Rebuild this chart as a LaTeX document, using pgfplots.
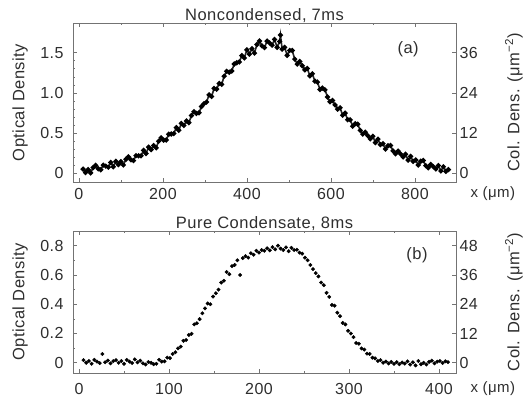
\documentclass[border=0pt]{standalone}
\usepackage{fontspec}
\setmainfont{Liberation Sans}[LetterSpace=3]
\usepackage{pgfplots}
\pgfplotsset{compat=1.18}
\definecolor{framec}{gray}{0.45}
\definecolor{txt}{gray}{0.18}
\pgfplotsset{
  panel/.style={
    scale only axis, width=383pt, anchor=south west,
    axis line style={framec, line width=0.8pt},
    every tick/.style={framec, line width=0.6pt},
    major tick length=4pt, minor tick length=2pt,
    tick label style={font=\fontsize{16}{18}\selectfont, text=txt},
    label style={font=\fontsize{16.5}{19}\selectfont, text=txt},
    title style={font=\fontsize{16.5}{19}\selectfont, text=txt, at={(axis description cs:0.5,1)}, anchor=base, yshift=-3pt},
    /pgf/number format/assume math mode=true,
    ytick pos=left,
    yticklabel style={xshift=-6pt},
    ylabel style={at={(axis description cs:0,0.5)}, anchor=center, yshift=53pt},
    xlabel={x (μm)},
    xlabel style={font=\fontsize{15}{17}\selectfont, at={(axis description cs:1,0)}, anchor=west, xshift=11pt},
  },
  rpanel/.style={
    scale only axis, width=383pt, anchor=south west,
    axis x line=none, axis y line*=right,
    axis line style={framec, line width=0.8pt},
    every tick/.style={framec, line width=0.6pt},
    major tick length=4pt,
    tick label style={font=\fontsize{16}{18}\selectfont, text=txt},
    label style={font=\fontsize{16.5}{19}\selectfont, text=txt},
    /pgf/number format/assume math mode=true,
    ylabel style={at={(axis description cs:1,0.5)}, anchor=center, yshift=-58pt},
    ylabel={Col. Dens. (μm\textsuperscript{−2})},
  },
  dots/.style={mark=*, black, mark options={draw=black, fill=black}},
}
\begin{document}
\begin{tikzpicture}
\path[use as bounding box] (0,0) rectangle (526pt,400pt);
% ---------------- panel (a) ----------------
\begin{axis}[panel, at={(73pt,218pt)}, height=159pt,
  xmin=-14, xmax=898, ymin=-0.11, ymax=1.87,
  xtick={0,200,400,600,800}, minor x tick num=1,
  xticklabel style={yshift=-3pt},
  xlabel style={yshift=-12pt},
  ytick={0,0.5,1,1.5}, yticklabels={0,0.5,1.0,1.5}, minor y tick num=4,
  title={Noncondensed, 7ms}, ylabel={Optical Density}]
\addplot[dots, mark size=1.7pt, line width=1.6pt, black!85] coordinates {
(10,0.050) (16,0.008) (22,0.045) (28,0.003) (34,0.070) (40,0.098) (46,0.055) (52,0.042)
(58,0.100) (64,0.088) (70,0.075) (76,0.133) (82,0.080) (88,0.148) (94,0.106) (100,0.144)
(106,0.102) (112,0.173) (118,0.204) (124,0.166) (130,0.157) (136,0.218) (142,0.216) (148,0.216)
(154,0.285) (160,0.245) (166,0.324) (172,0.294) (178,0.344) (184,0.316) (190,0.398) (196,0.440)
(202,0.411) (208,0.413) (214,0.485) (220,0.488) (226,0.493) (232,0.568) (238,0.534) (244,0.619)
(250,0.594) (256,0.650) (262,0.628) (268,0.717) (274,0.765) (280,0.744) (286,0.752) (292,0.831)
(298,0.866) (304,0.885) (310,0.975) (316,0.955) (322,1.055) (328,1.046) (334,1.117) (340,1.107)
(346,1.208) (352,1.268) (358,1.257) (364,1.273) (370,1.359) (376,1.375) (382,1.385) (388,1.465)
(394,1.435) (400,1.535) (406,1.483) (412,1.550) (418,1.496) (424,1.601) (430,1.646) (436,1.585)
(442,1.563) (448,1.645) (454,1.622) (460,1.594) (466,1.665) (472,1.567) (478,1.640) (480,1.720)
(484,1.545) (490,1.567) (496,1.467) (502,1.528) (508,1.527) (514,1.420) (520,1.358) (526,1.390)
(532,1.338) (538,1.286) (544,1.304) (550,1.212) (556,1.238) (562,1.145) (568,1.135) (574,1.042)
(580,1.060) (586,1.038) (592,0.948) (598,0.890) (604,0.905) (610,0.850) (616,0.797) (622,0.814)
(628,0.721) (634,0.748) (640,0.666) (646,0.665) (652,0.585) (658,0.617) (664,0.610) (670,0.533)
(676,0.487) (682,0.511) (688,0.467) (694,0.428) (700,0.460) (706,0.381) (712,0.423) (718,0.355)
(724,0.367) (730,0.300) (736,0.342) (742,0.345) (748,0.278) (754,0.242) (760,0.275) (766,0.239)
(772,0.202) (778,0.236) (784,0.162) (790,0.209) (796,0.147) (802,0.164) (808,0.102) (814,0.149)
(820,0.157) (826,0.094) (832,0.066) (838,0.108) (844,0.080) (850,0.052) (856,0.095) (862,0.027)
(868,0.080) (874,0.022) (880,0.045)
};
\node[anchor=center, font=\fontsize{16.5}{19}\selectfont, text=txt] at (rel axis cs:0.875,0.836) {(a)};
\end{axis}
\begin{axis}[rpanel, at={(73pt,218pt)}, height=159pt,
  xmin=-14, xmax=898, ymin=-2.64, ymax=44.88,
  ytick={0,12,24,36}]
\end{axis}
% ---------------- panel (b) ----------------
\begin{axis}[panel, at={(73pt,27pt)}, height=142pt,
  xmin=-6.7, xmax=418.9, ymin=-0.07, ymax=0.90,
  xtick={0,100,200,300,400}, minor x tick num=1,
  xticklabel style={yshift=-7pt},
  xlabel style={yshift=-16pt},
  ytick={0,0.2,0.4,0.6,0.8}, yticklabels={0,0.2,0.4,0.6,0.8}, minor y tick num=1,
  title={Pure Condensate, 8ms}, ylabel={Optical Density}]
\addplot[dots, only marks, mark size=1.75pt] coordinates {
(5,0.018) (8,0.000) (11,0.012) (14,-0.007) (17,0.020) (20,0.008) (23,-0.002) (26,0.060)
(29,0.003) (32,0.015) (35,-0.004) (38,0.011) (41,0.018) (44,0.000) (47,0.012) (50,-0.007)
(53,0.020) (56,0.008) (59,-0.002) (62,0.023) (65,0.003) (68,0.015) (71,-0.004) (74,-0.012)
(77,0.005) (80,0.000) (83,-0.010) (86,-0.007) (89,0.020) (92,0.008) (95,0.010) (98,0.035)
(101,0.032) (104,0.060) (107,0.072) (110,0.098) (113,0.110) (116,0.150) (119,0.155) (122,0.190)
(125,0.198) (128,0.262) (131,0.270) (134,0.298) (137,0.338) (140,0.372) (143,0.405) (146,0.400)
(149,0.452) (152,0.475) (155,0.500) (158,0.548) (161,0.560) (164,0.620) (167,0.605) (170,0.660)
(173,0.668) (176,0.700) (179,0.600) (182,0.715) (185,0.728) (188,0.718) (191,0.748) (194,0.738)
(197,0.765) (200,0.752) (203,0.770) (206,0.765) (209,0.782) (212,0.768) (215,0.790) (218,0.775)
(221,0.800) (224,0.780) (227,0.770) (230,0.788) (233,0.762) (236,0.785) (239,0.770) (242,0.772)
(245,0.752) (248,0.745) (251,0.718) (254,0.700) (257,0.668) (260,0.640) (263,0.612) (266,0.590)
(269,0.548) (272,0.530) (275,0.478) (278,0.450) (281,0.395) (284,0.390) (287,0.342) (290,0.318)
(293,0.272) (296,0.262) (299,0.218) (302,0.200) (305,0.175) (308,0.135) (311,0.130) (314,0.098)
(317,0.090) (320,0.062) (323,0.060) (326,0.035) (329,0.030) (332,0.012) (335,0.018) (338,0.000)
(341,0.008) (344,-0.005) (347,0.006) (350,-0.008) (353,0.004) (356,-0.010) (359,0.002) (362,-0.006)
(365,0.010) (368,-0.012) (371,0.003) (374,-0.018) (377,0.012) (380,-0.010) (383,0.000) (386,-0.012)
(389,0.006) (392,0.014) (395,-0.004) (398,0.008) (401,0.012) (404,-0.002) (407,0.010) (410,0.004)
};
\node[anchor=center, font=\fontsize{16.5}{19}\selectfont, text=txt] at (rel axis cs:0.898,0.83) {(b)};
\end{axis}
\begin{axis}[rpanel, at={(73pt,27pt)}, height=142pt,
  xmin=-6.7, xmax=418.9, ymin=-4.2, ymax=54,
  ytick={0,12,24,36,48}]
\end{axis}
\end{tikzpicture}
\end{document}
